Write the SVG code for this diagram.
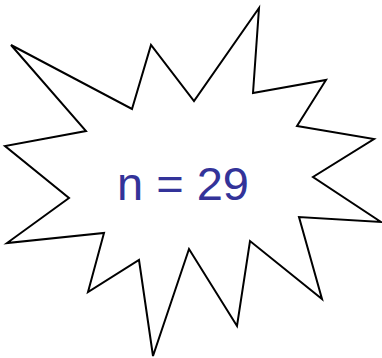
<svg xmlns="http://www.w3.org/2000/svg" width="382" height="358" viewBox="0 0 382 358">
<style>
.star{fill:#ffffff;stroke:#000000;stroke-width:2;stroke-linejoin:miter}
.lbl{font-family:"Liberation Sans",Arial,sans-serif;font-size:47px;fill:#333399}
</style>
<rect width="382" height="358" fill="#ffffff"/>
<g id="burst">
<polygon class="star" points="11,45 132,109 151,45 194,101 259,8 253,93 326,80 297,126 374,139 313,177 381,222 299,217 322,299 250,241 237,326 189,249 153,356 139,260 88,292 104,233 7,243 69,198 5,146 86,131"/>
<text class="lbl" x="183" y="200" text-anchor="middle">n = 29</text>
</g>
</svg>
